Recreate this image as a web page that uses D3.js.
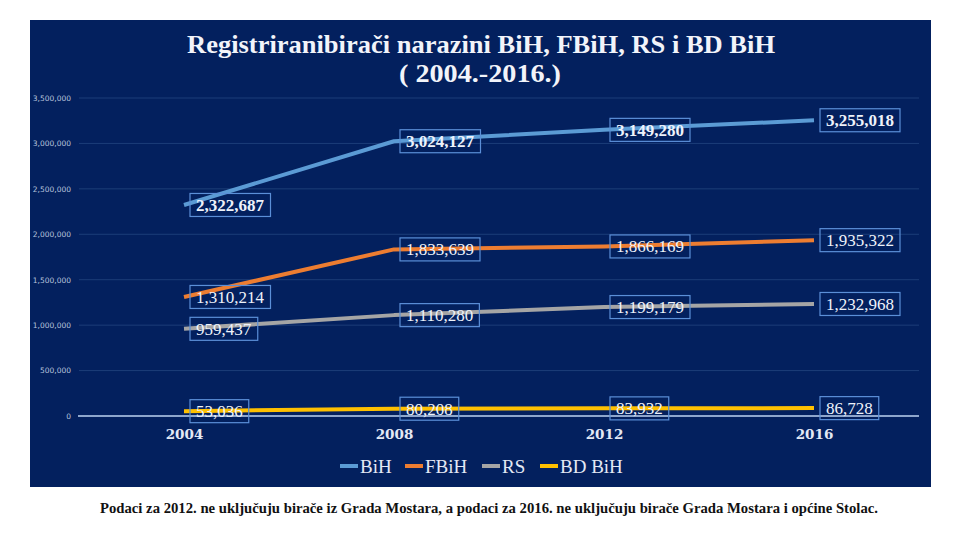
<!DOCTYPE html>
<html><head><meta charset="utf-8">
<script src="https://cdn.jsdelivr.net/npm/d3@7"></script>
<style>body{margin:0;background:#fff}svg{display:block}</style>
</head><body>
<svg id="c" width="960" height="540"></svg>
<script>
const years = ["2004","2008","2012","2016"];
const seriesNames = ["BiH","FBiH","RS","BD BiH"];
const bih  = [2322687, 3024127, 3149280, 3255018];
const fbih = [1310214, 1833639, 1866169, 1935322];
const rs   = [959437, 1110280, 1199179, 1232968];
const bd   = [53036, 80208, 83932, 86728];
const yTicks = [0,500000,1000000,1500000,2000000,2500000,3000000,3500000];
const titleLines = ["Registriranibirači narazini BiH, FBiH, RS i BD BiH","( 2004.-2016.)"];
const footnote = "Podaci za 2012. ne uključuju birače iz Grada Mostara, a podaci za 2016. ne uključuju birače Grada Mostara i općine Stolac.";

const colors = ["#5b9bd5","#ed7d31","#a5a5a5","#ffc000"];
const data = [bih,fbih,rs,bd];

const svg = d3.select("#c");
svg.append("rect").attr("x",30).attr("y",20).attr("width",901).attr("height",467).attr("fill","#03205e");

const x = d3.scalePoint().domain(years).range([79,919]).padding(0.5);
const y = d3.scaleLinear().domain([0,3500000]).range([416,98]);

// gridlines
svg.append("g").selectAll("line").data(yTicks.filter(d=>d>0)).join("line")
  .attr("x1",79).attr("x2",919).attr("y1",d=>y(d)).attr("y2",d=>y(d))
  .attr("stroke","#1c3d78").attr("stroke-width",1);

// y axis labels
const yAxis = d3.axisLeft(y).tickValues(yTicks).tickFormat(d3.format(",")).tickSize(0).tickPadding(0);
const ga = svg.append("g").attr("transform","translate(71,0)").call(yAxis);
ga.select(".domain").remove();
ga.selectAll("text").attr("fill","#b7c3dc").attr("font-family","DejaVu Sans").attr("font-size",7.5);

// lines
const line = d3.line().x((d,i)=>x(years[i])).y(d=>y(d));
data.forEach((s,k)=>{
  svg.append("path").datum(s).attr("d",line).attr("fill","none")
    .attr("stroke",colors[k]).attr("stroke-width",4).attr("stroke-linejoin","round");
});

// zero line
svg.append("line").attr("x1",78).attr("x2",919).attr("y1",y(0)).attr("y2",y(0))
  .attr("stroke","#8ea6cc").attr("stroke-width",2);

// x axis
const xAxis = d3.axisBottom(x).tickSize(0).tickPadding(0);
const gx = svg.append("g").attr("transform","translate(0,429)").call(xAxis);
gx.select(".domain").remove();
gx.selectAll("text").attr("fill","#e3e9f5").attr("font-family","DejaVu Serif").attr("font-weight","bold").attr("font-size",13.5).attr("dy","0.75em");

// labels
data.forEach((s,k)=>{
  s.forEach((v,i)=>{
    const g = svg.append("g");
    const t = g.append("text").attr("x",x(years[i])+12).attr("y",y(v)).attr("dy","0.35em")
      .attr("fill","#eef2fa").attr("font-family","Liberation Serif").attr("font-size",17)
      .attr("font-weight",k===0?"bold":"normal").text(d3.format(",")(v));
    const bb = t.node().getBBox();
    g.insert("rect","text").attr("x",x(years[i])+6).attr("y",y(v)-11.5)
      .attr("width",bb.width+12).attr("height",23)
      .attr("fill","none").attr("stroke","#5b8fd8").attr("stroke-width",1.2);
  });
});

// title
svg.append("text").attr("x",481).attr("y",53).attr("text-anchor","middle")
  .attr("fill","#f2f4fa").attr("font-family","Liberation Serif").attr("font-weight","bold").attr("font-size",26)
  .attr("textLength",588).attr("lengthAdjust","spacingAndGlyphs").text(titleLines[0]);
svg.append("text").attr("x",480).attr("y",82).attr("text-anchor","middle")
  .attr("fill","#f2f4fa").attr("font-family","Liberation Serif").attr("font-weight","bold").attr("font-size",26)
  .attr("textLength",162).attr("lengthAdjust","spacingAndGlyphs").text(titleLines[1]);

// legend
const legX = [340,405,482,540];
seriesNames.forEach((n,k)=>{
  svg.append("line").attr("x1",legX[k]).attr("x2",legX[k]+18).attr("y1",466).attr("y2",466)
    .attr("stroke",colors[k]).attr("stroke-width",4);
  svg.append("text").attr("x",legX[k]+20).attr("y",466).attr("dy","0.35em")
    .attr("fill","#e3e9f5").attr("font-family","Liberation Serif").attr("font-size",19).text(n);
});

// footnote
svg.append("text").attr("x",489).attr("y",513).attr("text-anchor","middle")
  .attr("fill","#111").attr("font-family","Liberation Serif").attr("font-weight","bold").attr("font-size",15)
  .attr("textLength",778).attr("lengthAdjust","spacingAndGlyphs").text(footnote);
</script>
</body></html>
